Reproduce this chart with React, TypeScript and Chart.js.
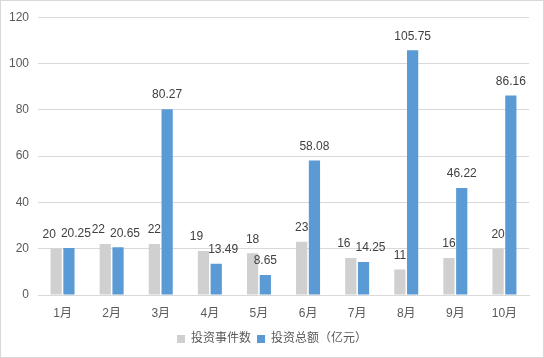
import React, { useEffect, useRef } from "react";
import { Chart, registerables } from "chart.js";

Chart.register(...registerables);

const categories = ["1月", "2月", "3月", "4月", "5月", "6月", "7月", "8月", "9月", "10月"];
const eventCounts = [20, 22, 22, 19, 18, 23, 16, 11, 16, 20];
const investTotals = [20.25, 20.65, 80.27, 13.49, 8.65, 58.08, 14.25, 105.75, 46.22, 86.16];
const seriesNames = ["投资事件数", "投资总额（亿元）"];
const yTicks = [0, 20, 40, 60, 80, 100, 120];

const FONT = "'Liberation Sans', 'Noto Sans CJK SC', sans-serif";

const valueLabels = {
  id: "valueLabels",
  afterDatasetsDraw(chart: any) {
    const ctx = chart.ctx;
    ctx.save();
    ctx.font = `12px ${FONT}`;
    ctx.fillStyle = "#404040";
    ctx.textAlign = "center";
    ctx.textBaseline = "middle";
    const fmt = (v: number) => (Number.isInteger(v) ? String(v) : v.toFixed(2));
    const m0 = chart.getDatasetMeta(0);
    const m1 = chart.getDatasetMeta(1);
    const d0 = chart.data.datasets[0].data;
    const d1 = chart.data.datasets[1].data;
    m0.data.forEach((el0: any, j: number) => {
      const el1 = m1.data[j];
      const t0 = fmt(d0[j]);
      const t1 = fmt(d1[j]);
      let x0 = el0.x;
      let x1 = el1.x;
      const y0 = el0.y - 14;
      const y1 = el1.y - 14;
      const w0 = ctx.measureText(t0).width;
      const w1 = ctx.measureText(t1).width;
      if (Math.abs(y0 - y1) < 13) {
        const need = (w0 + w1) / 2 + 5 - (x1 - x0);
        if (need > 0) {
          x0 -= need / 2;
          x1 += need / 2;
        }
      }
      ctx.fillText(t0, x0, y0);
      ctx.fillText(t1, x1, y1);
    });
    ctx.restore();
  },
};

const legendShift = {
  id: "legendShift",
  afterLayout(chart: any) {
    if (chart.legend) {
      chart.legend.left += 7;
      chart.legend.right += 7;
    }
  },
};

export default function App() {
  const ref = useRef<HTMLCanvasElement>(null);
  useEffect(() => {
    document.body.style.margin = "0";
    const chart = new Chart(ref.current!, {
      type: "bar",
      data: {
        labels: categories,
        datasets: [
          { label: seriesNames[0], data: eventCounts, backgroundColor: "#d0d0d0", categoryPercentage: 0.52, barPercentage: 0.88 },
          { label: seriesNames[1], data: investTotals, backgroundColor: "#5b9bd5", categoryPercentage: 0.52, barPercentage: 0.88 },
        ],
      },
      options: {
        animation: false,
        responsive: false,
        maintainAspectRatio: false,
        layout: { padding: { top: 12, right: 14, bottom: 2, left: 0 } },
        plugins: {
          legend: {
            position: "bottom",
            labels: {
              boxWidth: 8,
              boxHeight: 8,
              padding: 6,
              color: "#595959",
              font: { size: 12, family: FONT },
            },
          },
          tooltip: { enabled: false },
        },
        scales: {
          x: {
            grid: { display: false, drawTicks: false },
            border: { color: "#d9d9d9" },
            ticks: { color: "#595959", font: { size: 12, family: FONT }, padding: 11 },
            afterFit(s: any) { s.height = 32; },
          },
          y: {
            min: 0,
            max: 120,
            afterBuildTicks(s: any) { s.ticks = yTicks.map((v) => ({ value: v })); },
            grid: { color: "#d9d9d9", drawTicks: false },
            border: { display: false },
            ticks: { color: "#595959", font: { size: 12, family: FONT }, padding: 9 },
            afterFit(s: any) { s.width = 37; },
          },
        },
      },
      plugins: [valueLabels, legendShift],
    });
    return () => chart.destroy();
  }, []);
  return (
    <div style={{ position: "fixed", left: 0, top: 0, width: 544, height: 358, boxSizing: "border-box", border: "1px solid #d9d9d9", background: "#fff" }}>
      <canvas ref={ref} width={542} height={356} style={{ display: "block" }} />
    </div>
  );
}
